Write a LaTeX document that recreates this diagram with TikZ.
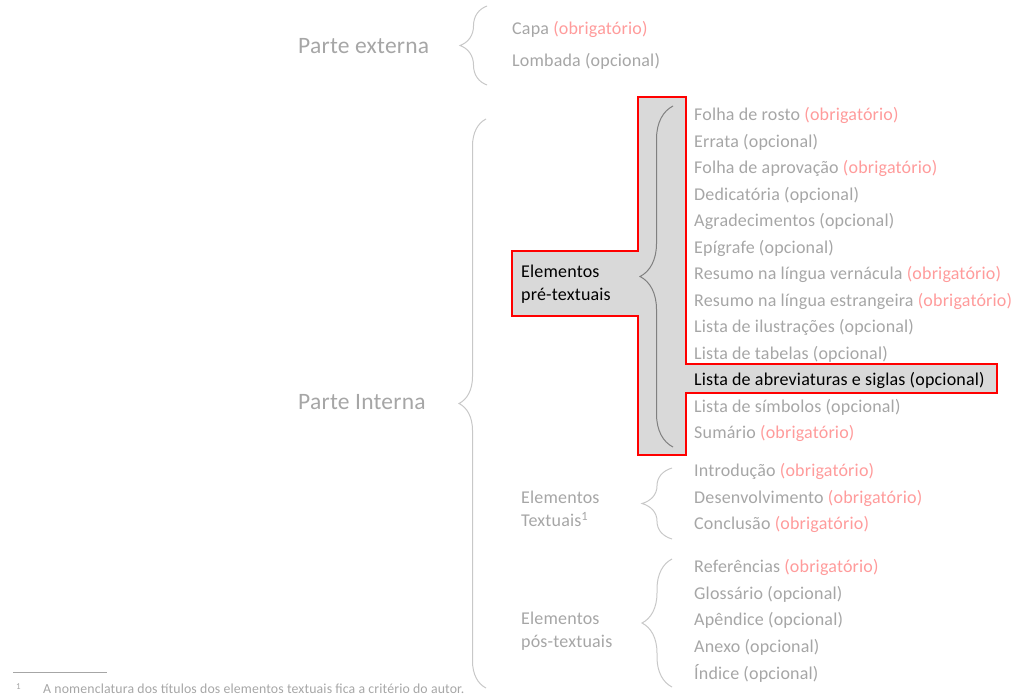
\documentclass[tikz,border=0pt]{standalone}
\usepackage{fontspec}
\setmainfont{Carlito}[LetterSpace=1]
\usetikzlibrary{decorations.pathreplacing}

\definecolor{txtgray}{HTML}{A6A6A6}
\definecolor{obrpink}{HTML}{FF9B9B}
\definecolor{bracegray}{HTML}{C8C8C8}
\definecolor{hlfill}{HTML}{D9D9D9}
\newcommand{\obr}{\textcolor{obrpink}{(obrigatório)}}

\tikzset{
  item/.style={anchor=west, inner sep=0pt, font=\fontsize{18}{20}\selectfont, text=txtgray},
  part/.style={anchor=west, inner sep=0pt, font=\fontsize{23.5}{28}\selectfont, text=txtgray},
  group/.style={anchor=west, inner sep=0pt, align=left, font=\fontsize{18}{23.5}\selectfont, text=txtgray},
  curly/.style={draw=bracegray, line width=1pt, decorate, decoration={brace, amplitude=#1}},
}

\begin{document}
\begin{tikzpicture}[x=1pt,y=-1pt]
  \useasboundingbox (0,0) rectangle (1024,699);

  % Highlighted region
  \draw[fill=hlfill, draw=red, line width=1.5pt]
    (638,97) -- (686,97) -- (686,364) -- (997,364) -- (997,393) -- (686,393)
    -- (686,455) -- (638,455) -- (638,316) -- (512,316) -- (512,251)
    -- (638,251) -- cycle;

  % Parts
  \node[part] (ext) at (298,46) {Parte externa};
  \node[part] (int) at (298,402) {Parte Interna};

  % Parte externa
  \node[item] (capa) at (512,29) {Capa \obr};
  \node[item] (lomb) at (512,61) {Lombada (opcional)};

  % Group labels
  \node[group, text=black] (pre) at (521,284) {Elementos\\pré-textuais};
  \node[group] (txt) at (521,509) {Elementos\\Textuais\textsuperscript{1}};
  \node[group] (pos) at (521,631) {Elementos\\pós-textuais};

  % Pre-textual items
  \foreach \lbl/\col [count=\i] in {Folha de rosto \obr/txtgray, Errata (opcional)/txtgray,
      Folha de aprovação \obr/txtgray, Dedicatória (opcional)/txtgray,
      Agradecimentos (opcional)/txtgray, Epígrafe (opcional)/txtgray,
      Resumo na língua vernácula \obr/txtgray, Resumo na língua estrangeira \obr/txtgray,
      Lista de ilustrações (opcional)/txtgray, Lista de tabelas (opcional)/txtgray,
      Lista de abreviaturas e siglas (opcional)/black, Lista de símbolos (opcional)/txtgray,
      Sumário \obr/txtgray}
    \node[item, text=\col] (pre\i) at (694,{115.5+26.5*(\i-1)}) {\lbl};

  % Textual items
  \foreach \lbl [count=\i] in {Introdução \obr, Desenvolvimento \obr, Conclusão \obr}
    \node[item] (txt\i) at (694,{471.5+26.5*(\i-1)}) {\lbl};

  % Post-textual items
  \foreach \lbl [count=\i] in {Referências \obr, Glossário (opcional), Apêndice (opcional),
      Anexo (opcional), Índice (opcional)}
    \node[item] (pos\i) at (694,{567.5+26.5*(\i-1)}) {\lbl};

  % Braces
  \coordinate (extB) at (487,85);  \coordinate (extT) at (487,6);
  \coordinate (intB) at (486,688); \coordinate (intT) at (486,119);
  \coordinate (preB) at (673,447); \coordinate (preT) at (673,106);
  \coordinate (txtB) at (672,539); \coordinate (txtT) at (672,468);
  \coordinate (posB) at (672,687); \coordinate (posT) at (672,559);
  \draw[curly=27] (extB) -- (extT);
  \draw[curly=27] (intB) -- (intT);
  \draw[curly=33, draw=gray] (preB) -- (preT);
  \draw[curly=30] (txtB) -- (txtT);
  \draw[curly=30] (posB) -- (posT);

  % Footnote
  \coordinate (fnL) at (13,672); \coordinate (fnR) at (107,672);
  \draw[draw=txtgray, line width=0.75pt] (fnL) -- (fnR);
  \node[item, font=\fontsize{9}{10}\selectfont] (fnmark) at (16,687) {1};
  \node[item, font=\fontsize{13.8}{15}\selectfont] (fntext) at (43,689)
    {A nomenclatura dos títulos dos elementos textuais fica a critério do autor.};
\end{tikzpicture}
\end{document}
